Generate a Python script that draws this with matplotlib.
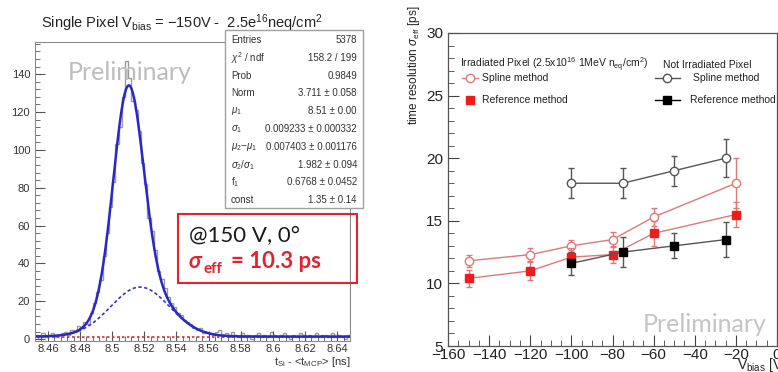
import numpy as np
import matplotlib
matplotlib.use('Agg')
import matplotlib.pyplot as plt
from matplotlib.patches import Rectangle
from matplotlib.ticker import MultipleLocator

plt.rcParams['font.family'] = ['Liberation Sans', 'DejaVu Sans']
plt.rcParams['mathtext.fontset'] = 'custom'
plt.rcParams['mathtext.rm'] = 'Liberation Sans'
plt.rcParams['mathtext.it'] = 'Liberation Sans:italic'
plt.rcParams['mathtext.bf'] = 'Liberation Sans:bold'

# ---------------- left panel data ----------------
hist_start = 8.45
hist_width = 0.002
hist_counts = [1, 2, 0, 3, 1, 2, 3, 1, 2,
               3, 4, 2, 5, 4, 7, 6, 9, 8, 14, 19, 25, 31, 44, 56, 70, 83, 103, 112, 128, 147,
               138, 126, 121, 110, 93, 82, 64, 57, 47, 36, 32, 27, 22, 19, 17, 14, 13, 10, 9, 8,
               6, 5, 6, 3, 4, 3, 2, 4, 5, 2, 3, 1, 4,
               2, 1, 3, 1, 2, 0, 2, 3, 1, 2, 1, 4, 2, 1, 2, 3, 1, 0, 2, 1,
               3, 2, 1, 2, 1, 3, 1, 2, 2, 1, 3, 1, 2, 1, 0, 2, 1]
fit_norm = 3.711
fit_mu1 = 8.51
fit_sigma1 = 0.009233
fit_dmu = 0.007403
fit_sratio = 1.982
fit_f1 = 0.6768
fit_const = 1.35

stats_labels = ["Entries", r"$\chi^{2}$ / ndf", "Prob", "Norm", r"$\mu_{1}$", r"$\sigma_{1}$",
                r"$\mu_{2}$$-$$\mu_{1}$", r"$\sigma_{2}/\sigma_{1}$", r"f$_{1}$", "const"]
stats_values = ["5378", "158.2 / 199", "0.9849", "3.711 ± 0.058", "8.51 ± 0.00",
                "0.009233 ± 0.000332", "0.007403 ± 0.001176", "1.982 ± 0.094",
                "0.6768 ± 0.0452", "1.35 ± 0.14"]

# ---------------- right panel data ----------------
irr_x = [-150, -120, -100, -80, -60, -20]
irr_spline = [11.8, 12.3, 13.0, 13.5, 15.3, 18.0]
irr_spline_err = [0.5, 0.5, 0.5, 0.6, 0.7, 2.0]
irr_ref = [10.4, 11.0, 12.1, 12.3, 14.0, 15.5]
irr_ref_err = [0.7, 0.7, 0.7, 0.7, 1.0, 1.0]
non_x = [-100, -75, -50, -25]
non_spline = [18.0, 18.0, 19.0, 20.0]
non_spline_err = [1.2, 1.2, 1.2, 1.5]
non_ref = [11.6, 12.5, 13.0, 13.5]
non_ref_err = [0.9, 1.2, 1.0, 1.4]

W, H = 778, 372
fig = plt.figure(figsize=(W / 100, H / 100), dpi=100)


def P(x, y):
    return (x / W, 1 - y / H)


# ================= LEFT PANEL =================
axL = fig.add_axes([35 / W, 1 - 341 / H, 315 / W, 299 / H])
edges = hist_start + hist_width * np.arange(len(hist_counts) + 1)
axL.stairs(hist_counts, edges, color='#9a9a9a', lw=1.0)

xs = np.linspace(8.45, 8.65, 800)
sigma2 = fit_sigma1 * fit_sratio
mu2 = fit_mu1 + fit_dmu
g1 = fit_f1 * np.exp(-0.5 * ((xs - fit_mu1) / fit_sigma1) ** 2) / (np.sqrt(2 * np.pi) * fit_sigma1)
g2 = (1 - fit_f1) * np.exp(-0.5 * ((xs - mu2) / sigma2) ** 2) / (np.sqrt(2 * np.pi) * sigma2)
axL.plot(xs, np.full_like(xs, fit_const), color='#e03030', lw=1.2, ls=(0, (1.5, 1.5)))
axL.plot(xs, fit_norm * g2 + fit_const, color='#3535c8', lw=1.2, ls=(0, (2, 1.5)))
axL.plot(xs, fit_norm * (g1 + g2) + fit_const, color='#2828c8', lw=1.8)

axL.set_xlim(8.452, 8.648)
axL.set_ylim(-1, 157)
axL.xaxis.set_minor_locator(MultipleLocator(0.004))
axL.yaxis.set_major_locator(MultipleLocator(20))
axL.yaxis.set_minor_locator(MultipleLocator(4))
axL.set_xticks(np.arange(8.46, 8.641, 0.02))
axL.set_xticklabels(['8.46', '8.48', '8.5', '8.52', '8.54', '8.56', '8.58', '8.6', '8.62', '8.64'])
axL.tick_params(which='both', direction='in', labelsize=8, colors='#555555', labelcolor='#333333')
axL.tick_params(which='major', length=7)
axL.tick_params(which='minor', length=3.5)
axL.tick_params(axis='x', pad=2)
for s in axL.spines.values():
    s.set_color('#8a8a8a')
    s.set_linewidth(0.8)

fig.text(*P(350, 365), r"t$_{\mathrm{Si}}$ - <t$_{\mathrm{MCP}}$> [ns]", ha='right', va='baseline',
         fontsize=8, color='#333333')
fig.text(*P(182, 28), r"Single Pixel V$_{\mathrm{bias}}$ = $-$150V -  2.5e$^{16}$neq/cm$^{2}$",
         ha='center', va='baseline', fontsize=10.5, color='#222222')
fig.text(*P(68, 80), "Preliminary", family='Lato', fontsize=18, color='#bdbdbd', va='baseline')

# stats box
fig.add_artist(Rectangle(P(225, 208), 138 / W, 178 / H, transform=fig.transFigure,
                         fc='white', ec='#a0a0a0', lw=1.0, zorder=5))
for i, (lab, val) in enumerate(zip(stats_labels, stats_values)):
    yy = 40 + i * 17.8
    fig.text(*P(231, yy), lab, ha='left', va='center', fontsize=7, color='#333333', zorder=6)
    fig.text(*P(357, yy), val, ha='right', va='center', fontsize=7, color='#333333', zorder=6)

# red annotation box
red = '#e3222b'
fig.add_artist(Rectangle(P(178, 283), 179 / W, 69 / H, transform=fig.transFigure,
                         fc='none', ec=red, lw=1.5, zorder=5))
fig.text(*P(189, 242), "@150 V, 0°", family='Lato', fontsize=16, color='#1a1a1a', va='baseline', zorder=6)
fig.text(*P(189, 268), "σ", family='Lato', fontsize=16, fontweight='bold', style='italic',
         color=red, va='baseline', zorder=6)
fig.text(*P(203, 273), "eff", family='Lato', fontsize=11, fontweight='bold',
         color=red, va='baseline', zorder=6)
fig.text(*P(231, 268), "= 10.3 ps", family='Lato', fontsize=16, fontweight='bold',
         color=red, va='baseline', zorder=6)

# ================= RIGHT PANEL =================
axR = fig.add_axes([448 / W, 1 - 346 / H, 329 / W, 313 / H])
c_irr_line = '#e07878'
c_irr_sq = '#ee1c1c'
c_non = '#555555'
axR.errorbar(irr_x, irr_spline, yerr=irr_spline_err, color=c_irr_line, lw=1.0, capsize=2,
             marker='o', ms=6, mfc='white', mec=c_irr_line, mew=1.0, zorder=3)
axR.errorbar(irr_x, irr_ref, yerr=irr_ref_err, color=c_irr_line, ecolor=c_irr_line, lw=1.0, capsize=2,
             marker='s', ms=5.5, mfc=c_irr_sq, mec=c_irr_sq, zorder=4)
axR.errorbar(non_x, non_spline, yerr=non_spline_err, color=c_non, lw=1.0, capsize=2,
             marker='o', ms=6, mfc='white', mec=c_non, mew=1.0, zorder=3)
axR.errorbar(non_x, non_ref, yerr=non_ref_err, color=c_non, lw=1.0, capsize=2,
             marker='s', ms=5.5, mfc='black', mec='black', zorder=4)
axR.set_xlim(-160, 0)
axR.set_ylim(5, 30)
axR.xaxis.set_major_locator(MultipleLocator(20))
axR.xaxis.set_minor_locator(MultipleLocator(5))
axR.yaxis.set_major_locator(MultipleLocator(5))
axR.yaxis.set_minor_locator(MultipleLocator(1))
axR.tick_params(which='both', direction='in', labelsize=11, colors='#444444', labelcolor='#222222')
axR.tick_params(which='major', length=8)
axR.tick_params(which='minor', length=4)
axR.tick_params(axis='x', pad=1.5)
for s in axR.spines.values():
    s.set_color('#555555')
    s.set_linewidth(0.9)

fig.text(*P(414, 5), r"time resolution $\sigma_{\mathrm{eff}}$ [ps]", rotation=90, ha='center', va='top',
         fontsize=8.5, color='#222222')
fig.text(*P(737, 369), r"V$_{\mathrm{bias}}$ [V]", ha='left', va='baseline', fontsize=10, color='#222222')
fig.text(*P(643, 332), "Preliminary", family='Lato', fontsize=18, color='#c4c4c4', va='baseline')

# legend
fs_leg = 7.5
fig.text(*P(460, 65), r"Irradiated Pixel (2.5x10$^{16}$ 1MeV n$_{\mathrm{eq}}$/cm$^{2}$)", ha='left', va='center',
         fontsize=fs_leg, color='#222222')
fig.text(*P(663, 65), "Not Irradiated Pixel", ha='left', va='center', fontsize=fs_leg, color='#222222')
legend_rows = [(78, "Spline method"), (100, "Reference method")]
ltr = fig.transFigure
# irradiated entries
x0, y0 = P(470, 78)
fig.add_artist(plt.Line2D([P(462, 0)[0], P(478, 0)[0]], [y0, y0], color=c_irr_line, lw=1.0, transform=ltr))
fig.add_artist(plt.Line2D([x0], [y0], marker='o', ms=6, mfc='white', mec=c_irr_line, ls='none', transform=ltr))
fig.text(*P(482, 78), legend_rows[0][1], ha='left', va='center', fontsize=fs_leg, color='#222222')
x0, y0 = P(470, 100)
fig.add_artist(plt.Line2D([x0], [y0], marker='s', ms=5.5, mfc=c_irr_sq, mec=c_irr_sq, ls='none', transform=ltr))
fig.text(*P(482, 100), legend_rows[1][1], ha='left', va='center', fontsize=fs_leg, color='#222222')
# not irradiated entries
x0, y0 = P(667, 78)
fig.add_artist(plt.Line2D([P(655, 0)[0], P(680, 0)[0]], [y0, y0], color=c_non, lw=1.0, transform=ltr))
fig.add_artist(plt.Line2D([x0], [y0], marker='o', ms=6, mfc='white', mec=c_non, ls='none', transform=ltr))
fig.text(*P(693, 78), legend_rows[0][1], ha='left', va='center', fontsize=fs_leg, color='#222222')
x0, y0 = P(667, 100)
fig.add_artist(plt.Line2D([P(655, 0)[0], P(680, 0)[0]], [y0, y0], color='black', lw=1.0, transform=ltr))
fig.add_artist(plt.Line2D([x0], [y0], marker='s', ms=5.5, mfc='black', mec='black', ls='none', transform=ltr))
fig.text(*P(690, 100), legend_rows[1][1], ha='left', va='center', fontsize=fs_leg, color='#222222')

fig.savefig('out.png', dpi=100)
